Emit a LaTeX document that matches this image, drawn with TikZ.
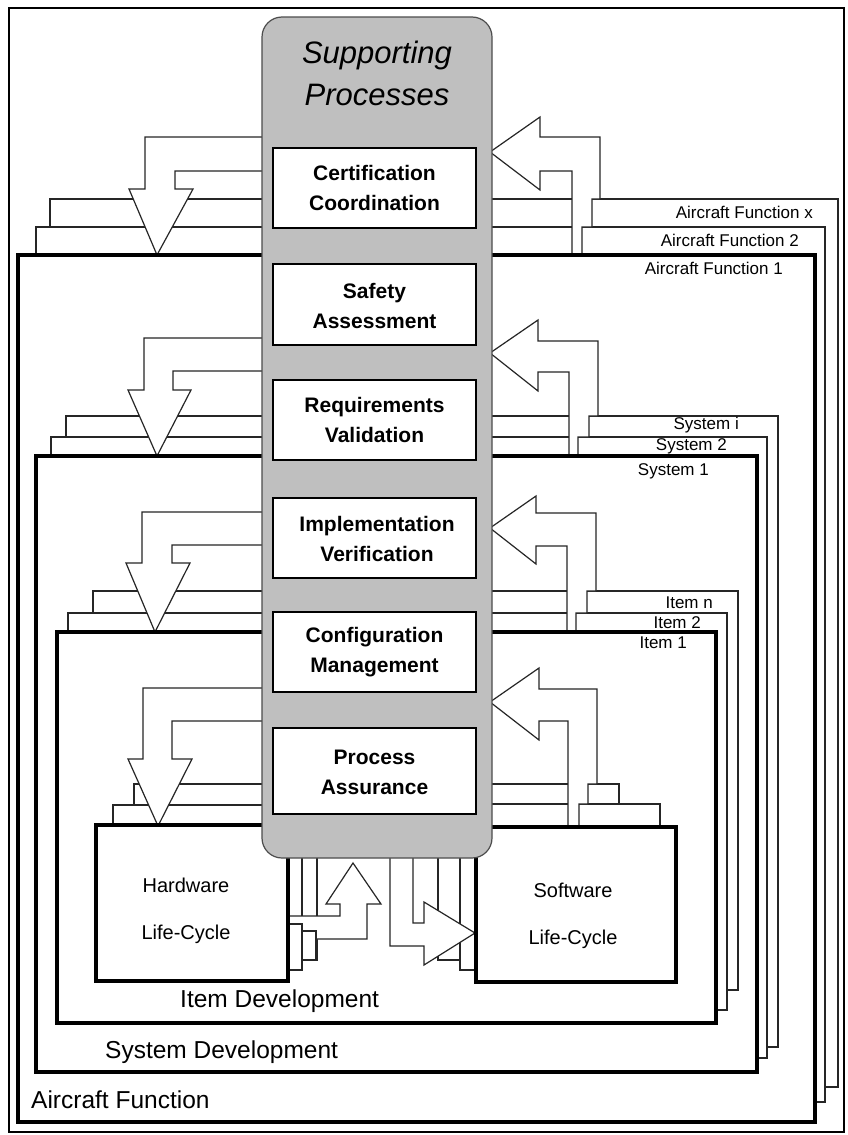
\documentclass[tikz,border=0pt]{standalone}
\usepackage{fontspec}
\setmainfont{Liberation Sans}
\begin{document}
\begin{tikzpicture}[x=1pt,y=-1pt,
  frame/.style={line width=2pt, draw=black},
  layerbox/.style={line width=1.2pt, draw=black!85, fill=white},
  mainbox/.style={line width=3.2pt, draw=black, fill=white},
  blockarrow/.style={line width=1.2pt, draw=black!85, fill=white, line join=miter},
  column/.style={line width=1.2pt, draw=black!70, fill=black!25, rounded corners=20pt},
  procbox/.style={line width=2pt, draw=black, fill=white},
  proctext/.style={font=\fontsize{21}{30}\selectfont\bfseries, align=center, inner sep=0pt},
  tag/.style={font=\fontsize{17}{20}\selectfont, anchor=east, inner sep=0pt},
  levelname/.style={font=\fontsize{24.5}{29}\selectfont, anchor=west, inner sep=0pt},
  lctext/.style={font=\fontsize{20}{47}\selectfont, align=center, inner sep=0pt}
]
\useasboundingbox (0,0) rectangle (847,1135);
\draw[frame] (9,8) rectangle (844,1132);

% ---- Aircraft function level ----
\draw[layerbox] (50,199) rectangle (838,1087);
\draw[layerbox] (36,227) rectangle (825,1102);
\draw[blockarrow] (270,137) -- (145,137) -- (145,189) -- (129,189) -- (157,255) -- (193,189) -- (175,189) -- (175,171) -- (270,171);
\draw[blockarrow] (490,152) -- (540,117) -- (540,137) -- (600,137) -- (600,199) -- (592,199) -- (592,227) -- (582,227) -- (582,255) -- (572,255) -- (572,171) -- (540,171) -- (540,190) -- cycle;
\draw[mainbox] (18,255) rectangle (815,1122);

% ---- System level ----
\draw[layerbox] (66,416) rectangle (778,1047);
\draw[layerbox] (51,437) rectangle (767,1058);
\draw[blockarrow] (270,338) -- (144,338) -- (144,390) -- (128,390) -- (157,456) -- (191,390) -- (173,390) -- (173,371) -- (270,371);
\draw[blockarrow] (490,353) -- (538,320) -- (538,341) -- (598,341) -- (598,416) -- (589,416) -- (589,437) -- (578,437) -- (578,456) -- (569,456) -- (569,372) -- (538,372) -- (538,391) -- cycle;
\draw[mainbox] (36,456) rectangle (757,1072);

% ---- Item level ----
\draw[layerbox] (93,591) rectangle (738,990);
\draw[layerbox] (68,613) rectangle (727,1010);
\draw[blockarrow] (270,512) -- (142,512) -- (142,563) -- (126,563) -- (155,632) -- (190,563) -- (172,563) -- (172,545) -- (270,545);
\draw[blockarrow] (490,528) -- (536,496) -- (536,513) -- (596,513) -- (596,591) -- (587,591) -- (587,613) -- (576,613) -- (576,632) -- (567,632) -- (567,546) -- (536,546) -- (536,564) -- cycle;
\draw[mainbox] (57,632) rectangle (716,1023);

% ---- Hardware / software life-cycles ----
\draw[layerbox] (134,784) rectangle (317,960);
\draw[layerbox] (113,805) rectangle (302,970);
\draw[layerbox] (438,784) rectangle (619,960);
\draw[layerbox] (460,804) rectangle (660,970);
\draw[blockarrow] (270,688) -- (143,688) -- (143,759) -- (128,759) -- (158,826) -- (192,759) -- (172,759) -- (172,721) -- (270,721);
\draw[blockarrow] (490,702) -- (539,668) -- (539,689) -- (597,689) -- (597,784) -- (588,784) -- (588,804) -- (579,804) -- (579,827) -- (568,827) -- (568,721) -- (539,721) -- (539,740) -- cycle;
\draw[blockarrow] (288,916) -- (340,916) -- (340,904) -- (326,904) -- (353,863) -- (381,904) -- (367,904) -- (367,939) -- (288,939) -- cycle;
\draw[blockarrow] (390,845) -- (390,946) -- (424,946) -- (424,965) -- (475,933) -- (424,902) -- (424,923) -- (413,923) -- (413,845);
\draw[layerbox] (287,924) rectangle (302,970);
\draw[layerbox] (302,931) rectangle (316,960);
\draw[mainbox] (96,825) rectangle (288,981);
\draw[mainbox] (476,827) rectangle (676,982);
\node[lctext] (hw) at (186,911) {Hardware\\Life-Cycle};
\node[lctext] (sw) at (573,916) {Software\\Life-Cycle};

% ---- Supporting processes column ----
\draw[column] (262,17) rectangle (492,858);
\node[font=\fontsize{31}{42}\selectfont\itshape, align=center, inner sep=0pt] (sp) at (377,73) {Supporting\\Processes};
\draw[procbox] (273,148) rectangle (476,228);
\node[proctext] (cc) at (374.5,188) {Certification\\Coordination};
\draw[procbox] (273,264) rectangle (476,345);
\node[proctext] (sa) at (374.5,306) {Safety\\Assessment};
\draw[procbox] (273,380) rectangle (476,460);
\node[proctext] (rv) at (374.5,420) {Requirements\\Validation};
\draw[procbox] (273,498) rectangle (476,578);
\node[proctext] (iv) at (377,539) {Implementation\\Verification};
\draw[procbox] (273,612) rectangle (476,692);
\node[proctext] (cm) at (374.5,652) {Configuration\\Management};
\draw[procbox] (273,728) rectangle (476,814);
\node[proctext] (pa) at (374.5,772) {Process\\Assurance};

% ---- Level tags ----
\node[tag] (afx) at (813,212) {Aircraft Function x};
\node[tag] (af2) at (799,240) {Aircraft Function 2};
\node[tag] (af1) at (783,268) {Aircraft Function 1};
\node[tag] (sysi) at (739,425) {System i};
\node[tag] (sys2) at (727,446) {System 2};
\node[tag] (sys1) at (709,471) {System 1};
\node[tag] (itn) at (713,603) {Item n};
\node[tag] (it2) at (701,623) {Item 2};
\node[tag] (it1) at (687,643) {Item 1};

\node[levelname] (itdev) at (180,1001) {Item Development};
\node[levelname] (sysdev) at (105,1052) {System Development};
\node[levelname] (afdev) at (31,1100) {Aircraft Function};
\end{tikzpicture}
\end{document}
